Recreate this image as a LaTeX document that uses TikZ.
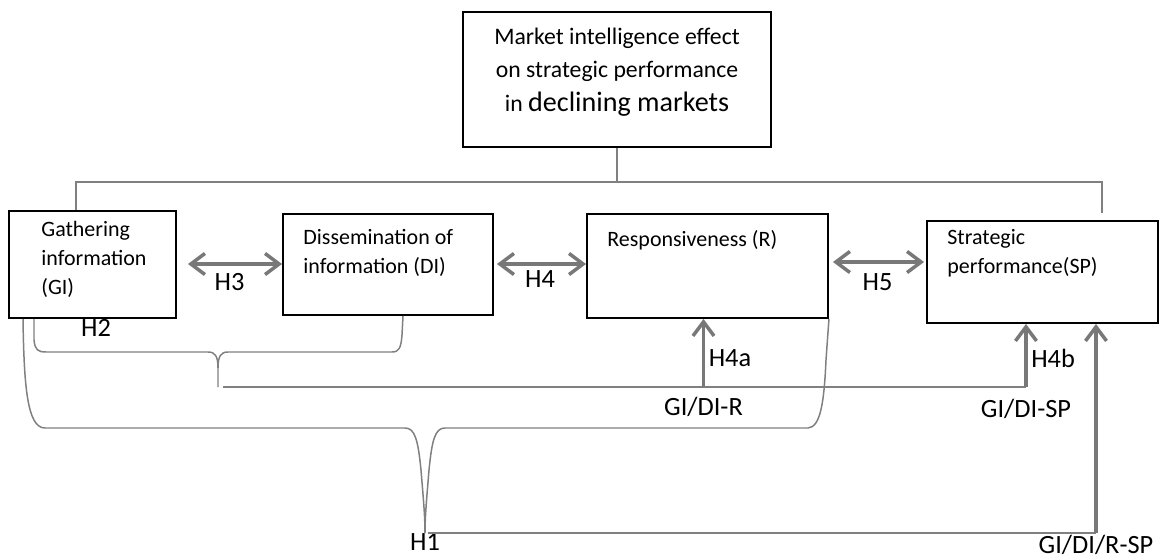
\documentclass[tikz,border=0pt]{standalone}
\usepackage{fontspec}
\setmainfont{Carlito}
\usetikzlibrary{arrows.meta}
\usetikzlibrary{positioning}

\definecolor{linegray}{RGB}{128,128,128}
\definecolor{arrowgray}{RGB}{120,120,120}

\tikzset{
    box/.style={draw, line width=1.1pt, inner sep=0pt},
    boxtext/.style={align=left, inner sep=0pt, font=\fontsize{12.5}{16.5}\selectfont},
    link/.style={draw=linegray, line width=0.85pt},
    dbl/.style={<->, draw=arrowgray, line width=2pt},
    up/.style={->, draw=arrowgray, line width=2pt},
    hlabel/.style={inner sep=0pt, font=\fontsize{15}{18}\selectfont},
}

\begin{document}
\begin{tikzpicture}[x=0.02cm, y=-0.02cm, >={Straight Barb[length=8pt,width=12pt]}]
    \useasboundingbox (0, 0) rectangle (1159, 560);

    \path (617, 79.5) node [box, minimum width=6.16cm, minimum height=2.7cm] (top) {};
    \path (617, 72) node [align=center, inner sep=0pt, font=\fontsize{13.5}{19}\selectfont] (toptext)
        {Market intelligence effect\\on strategic performance\\in {\fontsize{16}{19}\selectfont declining markets}};

    \path (92.5, 264.5) node [box, minimum width=3.34cm, minimum height=2.14cm] (gi) {};
    \path (388, 264.5) node [box, minimum width=4.2cm, minimum height=2.02cm] (di) {};
    \path (707.5, 266) node [box, minimum width=4.82cm, minimum height=2.08cm] (r) {};
    \path (1042.5, 272) node [box, minimum width=4.62cm, minimum height=2.04cm] (sp) {};

    \node [boxtext, anchor=north west, below right=0.22cm and 0.66cm of gi.north west] (gitext)
        {Gathering\\information\\(GI)};
    \node [boxtext, anchor=north west, below right=0.32cm and 0.42cm of di.north west] (ditext)
        {Dissemination of\\information (DI)};
    \node [boxtext, anchor=north west, below right=0.34cm and 0.42cm of r.north west] (rtext)
        {Responsiveness (R)};
    \node [boxtext, anchor=north west, below right=0.18cm and 0.42cm of sp.north west] (sptext)
        {Strategic\\performance(SP)};

    \coordinate (bus) at (617, 182);
    \coordinate (sptop) at (1102, 213);
    \draw [link] (top.south) -- (bus);
    \draw [link] (gi.north -| 76, 0) |- (bus) -| (sptop);

    \draw [dbl, shorten <=0.22cm] (gi.east |- 0, 264) -- (di.west |- 0, 264)
        node [hlabel, midway, below=4.3pt] {H3};
    \draw [dbl, shorten <=0.06cm] (di.east |- 0, 264) -- (r.west |- 0, 264)
        node [hlabel, midway, below=2.6pt] {H4};
    \draw [dbl, shorten <=0.08cm, shorten >=0.04cm] (r.east |- 0, 262) -- (sp.west |- 0, 262)
        node [hlabel, midway, below=5.4pt] {H5};

    \coordinate (h2) at (218, 387);
    \coordinate (h4a) at (703.5, 387);
    \coordinate (h4b) at (1026, 387);
    \coordinate (h1) at (425, 533);
    \coordinate (h1sp) at (1096, 533);

    \draw [link] (gi.south -| 34, 0) -- (34, 340) .. controls (35, 350) and (38, 352) .. (46, 352)
        -- (208, 352) .. controls (215, 352) and (218, 356) .. (218, 368) -- (h2);
    \draw [link] (218, 368) .. controls (218, 356) and (221, 352) .. (228, 352)
        -- (392, 352) .. controls (399, 352) and (401, 348) .. (402, 335) -- (di.south -| 403, 0);
    \node [hlabel] (h2label) at (96, 328) {H2};

    \draw [link, shorten <=0.1cm] (h2) -- (h4b);
    \draw [up] (h4a) -- (r.south -| h4a)
        node [hlabel, pos=0.42, right=2pt] {H4a}
        node [hlabel, at start, below=5pt] {GI/DI-R};
    \draw [up] (h4b) -- (sp.south -| h4b)
        node [hlabel, pos=0.45, right=2pt] {H4b}
        node [hlabel, at start, below=6pt] {GI/DI-SP};

    \draw [link] (gi.south -| 23, 0) .. controls (24, 385) and (27, 428) .. (45, 428)
        -- (405, 428) .. controls (415, 428) and (418, 440) .. (421, 470)
        .. controls (423, 495) and (425, 515) .. (h1);
    \draw [link] (h1) .. controls (425, 515) and (427, 495) .. (429, 470)
        .. controls (432, 440) and (435, 428) .. (445, 428) -- (808, 428)
        .. controls (820, 427) and (824, 405) .. (826, 360) -- (r.south east);
    \node [hlabel, below=0pt of h1] (h1label) {H1};

    \draw [link, shorten <=0.06cm] (h1) -- (h1sp);
    \draw [up] (h1sp) -- (sp.south -| h1sp)
        node [hlabel, at start, below=0pt] {GI/DI/R-SP};
\end{tikzpicture}
\end{document}
